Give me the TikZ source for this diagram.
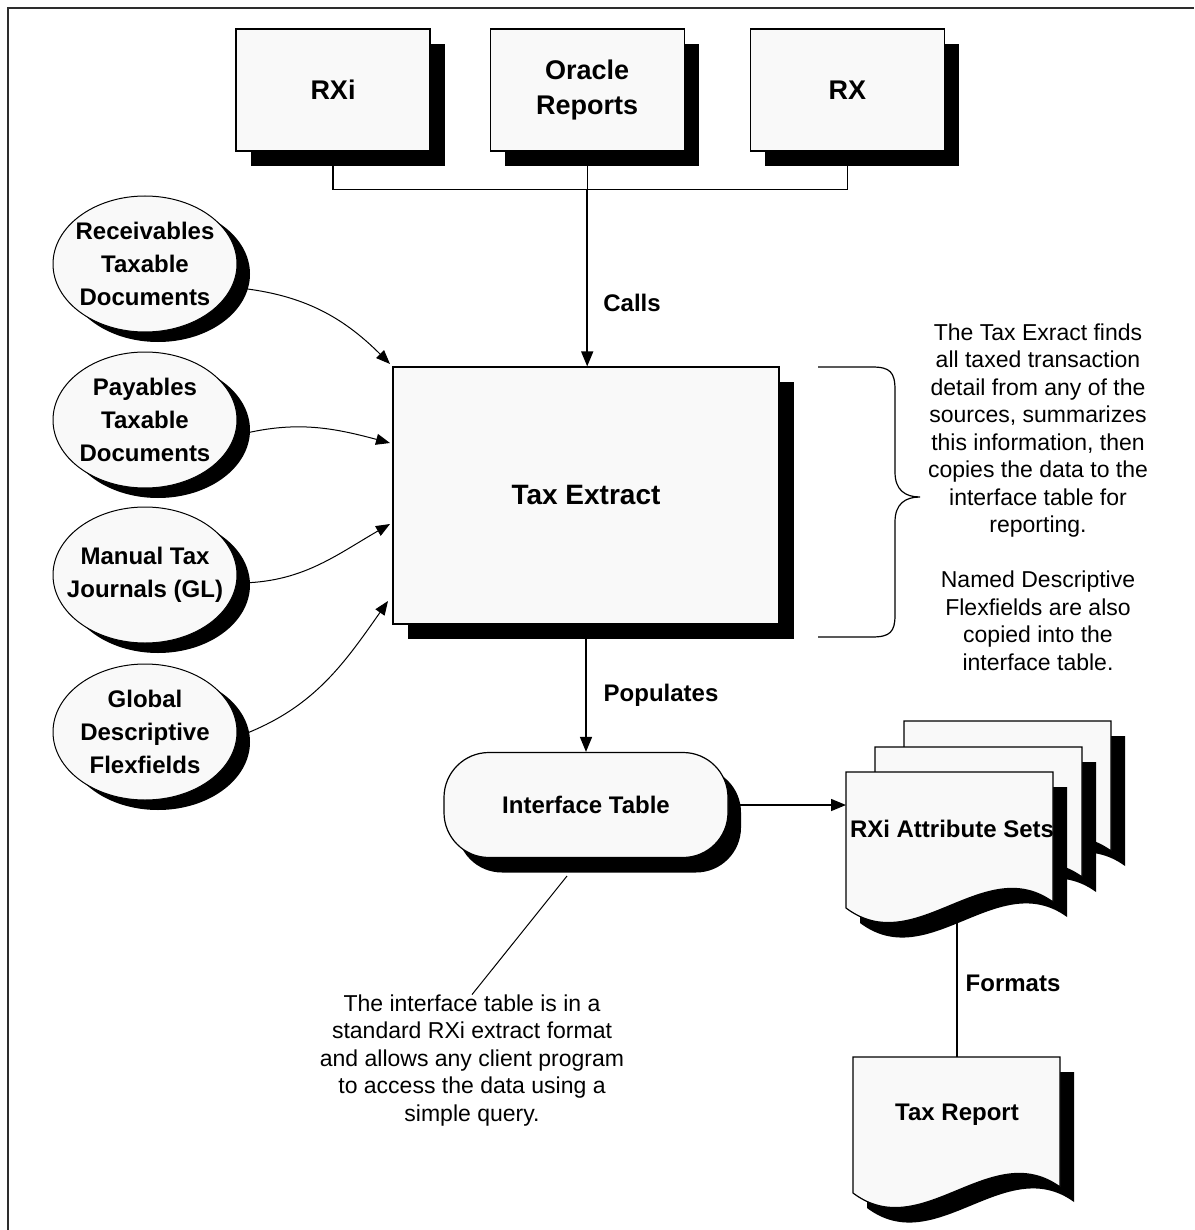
\documentclass[tikz,border=0pt]{standalone}
\usepackage{fontspec}
\setmainfont{Liberation Sans}
\usetikzlibrary{positioning,shapes.geometric,shadows,arrows.meta}

\definecolor{paper}{RGB}{249,249,249}
\definecolor{rule}{RGB}{45,45,45}

\tikzset{
  box/.style={draw, line width=1.2pt, fill=paper, inner sep=0pt, align=center,
    minimum width=194pt, minimum height=122pt,
    font=\fontsize{27}{35}\selectfont\bfseries,
    drop shadow={shadow xshift=15pt, shadow yshift=-15pt, fill=black, opacity=1}},
  src/.style={ellipse, draw, line width=1pt, fill=paper, inner sep=-25pt, align=center,
    minimum width=184pt, minimum height=136pt,
    font=\fontsize{24}{33}\selectfont\bfseries,
    drop shadow={shadow xshift=13pt, shadow yshift=-10pt, fill=black, opacity=1}},
  lbl/.style={inner sep=0pt, font=\fontsize{24}{33}\selectfont\bfseries},
  note/.style={inner sep=0pt, align=center, font=\fontsize{23}{27.5}\selectfont},
  arr/.style={line width=1.5pt, -{Triangle[length=15pt, width=12pt]}},
  feed/.style={line width=1pt, -{Triangle[length=14pt, width=11pt]}},
  link/.style={line width=1.3pt},
  docpage/.pic={
    \fill[black, shift={(14,-15)}] (0,0) -- (207,0) -- (207,-130)
      .. controls (138,-80) and (69,-188) .. (0,-136) -- cycle;
    \filldraw[fill=paper, draw=black, line width=1.2pt] (0,0) -- (207,0) -- (207,-130)
      .. controls (138,-80) and (69,-188) .. (0,-136) -- cycle;
  }
}

\begin{document}
\begin{tikzpicture}[x=1pt, y=1pt]
  \useasboundingbox (0,0) rectangle (1194,-1230);
  \draw[rule, line width=2.5pt] (8,-1230) -- (8,-8) -- (1194,-8);

  % callers
  \node[box] (rxi) at (333,-90) {RXi};
  \node[box, right=59pt of rxi] (orep) {Oracle\\Reports};
  \node[box, right=65pt of orep] (rx) {RX};

  % extract
  \node[box, minimum width=386pt, minimum height=257pt,
        font=\fontsize{28}{34}\selectfont\bfseries] (te) at (586,-495.5) {Tax Extract};

  \path (orep.south) ++(0,-38) coordinate (join);
  \draw[link] (rxi.south) |- (join) -| (rx.south);
  \draw[link] (orep.south) -- (join);
  \draw[arr] (join) -- (join |- te.north);
  \node[lbl] (calls) at (632,-303) {Calls};

  % sources
  \node[src] (rec) at (145,-264) {Receivables\\Taxable\\Documents};
  \node[src, below=19pt of rec] (pay) {Payables\\Taxable\\Documents};
  \node[src, below=18pt of pay] (man) {Manual Tax\\Journals (GL)};
  \node[src, below=20pt of man] (glob) {Global\\Descriptive\\Flexfields};

  \coordinate (in1) at (390,-364);
  \coordinate (in2) at (390,-443);
  \coordinate (in3) at (390,-524);
  \coordinate (in4) at (388,-601);
  \draw[feed] (rec.-15) to[out=-5, in=135] (in1);
  \draw[feed] (pay.-10) to[out=15, in=165] (in2);
  \draw[feed] (man.-5) to[out=0, in=210] (in3);
  \draw[feed] (glob.-3) to[out=20, in=235] (in4);

  % brace and explanation
  \draw[line width=1.2pt] (818,-367) -- (872,-367) .. controls (890,-367) and (895,-372) .. (895,-390)
    -- (895,-472) .. controls (895,-490) and (905,-497) .. (920,-497)
    .. controls (905,-497) and (895,-504) .. (895,-522)
    -- (895,-615) .. controls (895,-632) and (890,-637) .. (872,-637) -- (818,-637);
  \node[note] (expl) at (1038,-497) {The Tax Exract finds\\all taxed transaction\\detail from any of the\\
    sources, summarizes\\this information, then\\copies the data to the\\interface table for\\
    reporting.\\[27.5pt]Named Descriptive\\Flexfields are also\\copied into the\\interface table.};

  % interface table
  \node[draw, line width=1.2pt, fill=paper, rounded corners=45pt,
        minimum width=284pt, minimum height=105pt, inner sep=0pt,
        font=\fontsize{24}{33}\selectfont\bfseries,
        drop shadow={shadow xshift=13pt, shadow yshift=-15pt, fill=black, opacity=1}]
        (itab) at (586,-805) {Interface Table};
  \draw[arr] (te) -- (itab);
  \node[lbl] (pops) at (661,-695) {Populates};

  \node[note] (memo) at (472,-1060.5) {The interface table is in a\\standard RXi extract format\\
    and allows any client program\\to access the data using a\\simple query.};
  \coordinate (itab-c) at (567,-876);
  \draw[line width=1pt] (itab-c) -- (memo.north);

  % attribute sets and report
  \pic at (904,-721) {docpage};
  \pic at (875,-747) {docpage};
  \pic at (846,-772) {docpage};
  \node[lbl] (ras) at (952,-829) {RXi Attribute Sets};
  \coordinate (ras-w) at (846,-805);
  \draw[arr] (itab.east) -- (ras-w);

  \pic at (853,-1057) {docpage};
  \node[lbl] (trep) at (957,-1115) {Tax Report};
  \coordinate (ras-s) at (957,-920);
  \coordinate (trep-n) at (957,-1057);
  \draw[link] (ras-s) -- (trep-n);
  \node[lbl] (fmts) at (1013,-983) {Formats};
\end{tikzpicture}
\end{document}
